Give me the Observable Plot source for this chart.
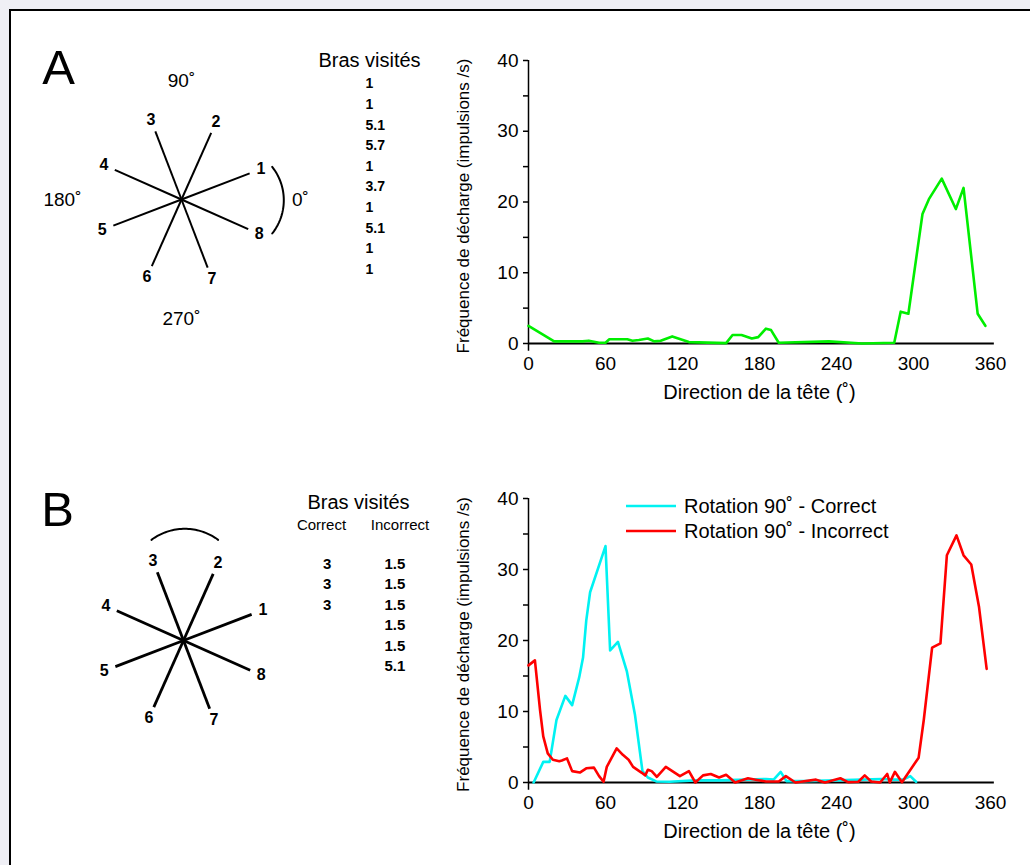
<!DOCTYPE html>
<html><head><meta charset="utf-8">
<script src="https://cdn.jsdelivr.net/npm/d3@7"></script>
<script src="https://cdn.jsdelivr.net/npm/@observablehq/plot@0.6"></script>
<style>
html,body{margin:0;padding:0;background:#efeff5;}
#page{position:relative;width:1030px;height:865px;overflow:hidden;background:#efeff5;font-family:"Liberation Sans",Arial,Helvetica,sans-serif;}
#panel{position:absolute;left:9px;top:9px;width:1100px;height:900px;background:#fff;border-top:2px solid #000;border-left:2px solid #000;}
</style></head>
<body><div id="page"><div id="panel"></div></div>
<script>
// ---------------- DATA ----------------
const xTicks = [0, 60, 120, 180, 240, 300, 360];
const yTicks = [0, 5, 10, 15, 20, 25, 30, 35, 40];
const yLabelTicks = [0, 10, 20, 30, 40];
const xTitle = "Direction de la tête (˚)";
const yTitle = "Fréquence de décharge (impulsions /s)";

// Panel A (green)
const greenDir  = [0,20,42,47,55,60,63,77,81,86,93,98,103,112,125,154,159,166,174,179,185,189,195,234,260,285,290,296,307,312,322,333,339,350,356];
const greenRate = [2.5,0.3,0.3,0.4,0.1,0.1,0.6,0.6,0.4,0.5,0.7,0.3,0.4,1.0,0.2,0.05,1.2,1.2,0.7,0.9,2.1,1.9,0.1,0.3,0,0.1,4.5,4.2,18.3,20.4,23.3,19,22,4.2,2.5];

// Panel B: Rotation 90˚ - Correct (cyan)
const corrDir  = [4,11.5,16.5,21.8,28.7,34,39.5,42.5,45,48,60,63.6,69.7,76.7,83,88.8,93,99.5,110,130,150,170,185,191,196.5,201,215,240,260,275,285,292,297.5,302];
const corrRate = [0,2.9,2.9,8.8,12.2,10.9,14.8,17.6,22.8,26.8,33.3,18.6,19.8,15.6,9.5,1.6,0.7,0.15,0.1,0.3,0.3,0.4,0.5,0.4,1.5,0.2,0.2,0.3,0.4,0.5,0.4,0.4,0.9,0.1];

// Panel B: Rotation 90˚ - Incorrect (red)
const incDir  = [0,5,9,11.5,15,19,24,26,30,34,40,45,51,55,58.5,61,68.7,73.5,78,81.5,88,91,93,96,100,107,118,125,130,136,142,148.5,154,161,171,177,185,195,200.5,208,224,231,243,249,257,262,267,274,279.5,281.5,285.5,291,304,308,314.5,321,326,333.5,339,345,351,357];
const incRate = [16.5,17.2,10.2,6.5,4.1,3.2,3.0,3.1,3.4,1.6,1.4,2.0,2.1,0.9,0.1,2.2,4.8,3.9,3.2,2.2,1.4,1.0,1.8,1.6,0.8,2.2,0.9,1.6,0,1.0,1.2,0.7,1.1,0,0.6,0.4,0.15,0.15,0.9,0,0.4,0,0.6,0.05,0.1,1.0,0.15,0,1.2,0,1.5,0.05,3.5,8.8,19.0,19.6,32,34.8,32,30.7,24.8,16];

const legendLabels = ["Rotation 90˚ - Correct", "Rotation 90˚ - Incorrect"];

// Maze diagrams
const armLabels = ["1","2","3","4","5","6","7","8"];
const armAngles = [21, 66, 111, 156, 201, 246, 291, 336];
const compassLabels = ["0˚", "90˚", "180˚", "270˚"];
const compassAngles = [0, 90, 180, 270];

// "Bras visités" tables
const visitedA = ["1","1","5.1","5.7","1","3.7","1","5.1","1","1"];
const visitedBCorrect = ["3","3","3"];
const visitedBIncorrect = ["1.5","1.5","1.5","1.5","1.5","5.1"];

// ---------------- RENDER ----------------
const FONT = '"Liberation Sans", Arial, Helvetica, sans-serif';
const GREEN = "#00ee00", CYAN = "#00f2f2", RED = "#ff0000";
const page = document.getElementById("page");
function place(node, left, top, w) {
  const div = document.createElement("div");
  div.style.cssText = `position:absolute;left:${left}px;top:${top}px;width:${w}px;`;
  div.appendChild(node);
  page.appendChild(div);
}
const toRows = (dir, rate) => dir.map((d, i) => ({dir: d, rate: rate[i]}));

function rateChart(series, height, marginBottom) {
  return Plot.plot({
    width: 580, height, marginLeft: 88, marginRight: 30, marginTop: 20, marginBottom,
    x: {domain: [0, 360]},
    y: {domain: [0, 40]},
    style: {fontFamily: FONT, background: "transparent", color: "black", overflow: "visible"},
    marks: [
      Plot.axisY({ticks: yTicks, tickSize: 5, tickPadding: 5, strokeWidth: 1.5, label: null,
        tickFormat: d => yLabelTicks.includes(d) ? String(d) : "", fontSize: 19}),
      Plot.ruleX([0], {y1: -1.1, y2: 40, strokeWidth: 1.5}),
      Plot.axisX({ticks: xTicks, tickSize: 0, tickPadding: 13, fontSize: 19, label: null}),
      Plot.ruleY([0], {x1: 0, x2: 363, strokeWidth: 2}),
      ...series.map(s => Plot.line(s.rows, {x: "dir", y: "rate", stroke: s.color, strokeWidth: 2.6})),
      Plot.text([xTitle], {text: d => d, frameAnchor: "bottom", lineAnchor: "middle", dy: 49, fontSize: 20}),
      Plot.text([yTitle], {text: d => d, frameAnchor: "left", textAnchor: "middle", lineAnchor: "middle",
        dx: -65, dy: 4, rotate: -90, fontSize: 17})
    ]
  });
}

place(rateChart([{rows: toRows(greenDir, greenRate), color: GREEN}], 390, 87), 440, 40, 580);
place(rateChart([
  {rows: toRows(corrDir, corrRate), color: CYAN},
  {rows: toRows(incDir, incRate), color: RED}
], 387, 83), 440, 478, 580);

// Legend for panel B
{
  const colors = [CYAN, RED];
  const svg = d3.create("svg").attr("width", 330).attr("height", 60)
    .style("font-family", FONT).style("overflow", "visible");
  legendLabels.forEach((lab, i) => {
    const y = 16 + i * 25;
    svg.append("line").attr("x1", 6).attr("x2", 56).attr("y1", y).attr("y2", y)
      .attr("stroke", colors[i]).attr("stroke-width", 2.6);
    svg.append("text").attr("x", 64).attr("y", y).attr("dy", "0.35em")
      .attr("font-size", 20).attr("fill", "black").text(lab);
  });
  place(svg.node(), 620, 490, 330);
}

// Diagrams and tables
const W = 440, H = 865;
const rad = a => a * Math.PI / 180;
const ARM = 73, LAB = 85, COMPASS = 119;
function starMarks(cx, cy, sw) {
  const arms = armAngles.map((a, i) => ({a, label: armLabels[i]}));
  return [
    Plot.link(arms, {x1: () => cx, y1: () => cy,
      x2: d => cx + ARM * Math.cos(rad(d.a)), y2: d => cy - ARM * Math.sin(rad(d.a)),
      stroke: "black", strokeWidth: sw}),
    Plot.text(arms, {x: d => cx + LAB * Math.cos(rad(d.a)), y: d => cy - LAB * Math.sin(rad(d.a)),
      text: "label", fontWeight: "bold", fontSize: 16, fill: "black"})
  ];
}
function arcPts(cx, cy, r, a0, a1) {
  return d3.range(0, 41).map(i => {
    const a = rad(a0 + (a1 - a0) * i / 40);
    return {x: cx + r * Math.cos(a), y: cy - r * Math.sin(a)};
  });
}
const A = {cx: 181, cy: 199}, B = {cx: 183, cy: 640};
const compass = compassLabels.map((t, i) => ({t, a: compassAngles[i]}));
const rowsA = visitedA.map((v, i) => ({v, i}));
const rowsBC = visitedBCorrect.map((v, i) => ({v, i}));
const rowsBI = visitedBIncorrect.map((v, i) => ({v, i}));

const diagram = Plot.plot({
  width: W, height: H, margin: 0,
  x: {domain: [0, W], range: [0, W], axis: null},
  y: {domain: [0, H], range: [0, H], axis: null},
  style: {fontFamily: FONT, background: "transparent", color: "black", overflow: "visible"},
  marks: [
    // panel letters
    Plot.text(["A"], {text: d => d, x: () => 58, y: () => 68, fontSize: 49}),
    Plot.text(["B"], {text: d => d, x: () => 57, y: () => 510, fontSize: 49}),
    // star A
    ...starMarks(A.cx, A.cy, 2),
    Plot.text(compass, {x: d => A.cx + COMPASS * Math.cos(rad(d.a)), y: d => A.cy - COMPASS * Math.sin(rad(d.a)),
      text: "t", fontSize: 19}),
    Plot.line(arcPts(A.cx + 48.7, A.cy + 0.7, 53.6, -38.4, 38.4), {x: "x", y: "y", stroke: "black", strokeWidth: 2}),
    // star B
    ...starMarks(B.cx, B.cy, 2.8),
    Plot.line(arcPts(B.cx + 1.3, B.cy - 55.8, 55.9, 53.4, 126.6), {x: "x", y: "y", stroke: "black", strokeWidth: 2}),
    // table A
    Plot.text(["Bras visités"], {text: d => d, x: () => 369, y: () => 60, fontSize: 20}),
    Plot.text(rowsA, {x: () => 365, y: d => 83.5 + d.i * 20.6, text: "v", textAnchor: "start", fontWeight: "bold", fontSize: 14}),
    // table B
    Plot.text(["Bras visités"], {text: d => d, x: () => 358, y: () => 502, fontSize: 20}),
    Plot.text(["Correct"], {text: d => d, x: () => 321, y: () => 525, fontSize: 15}),
    Plot.text(["Incorrect"], {text: d => d, x: () => 399.5, y: () => 525, fontSize: 15}),
    Plot.text(rowsBC, {x: () => 326.7, y: d => 563.5 + d.i * 20.5, text: "v", fontWeight: "bold", fontSize: 15}),
    Plot.text(rowsBI, {x: () => 394.3, y: d => 563.5 + d.i * 20.5, text: "v", fontWeight: "bold", fontSize: 15})
  ]
});
place(diagram, 0, 0, W);
</script>
</body></html>
